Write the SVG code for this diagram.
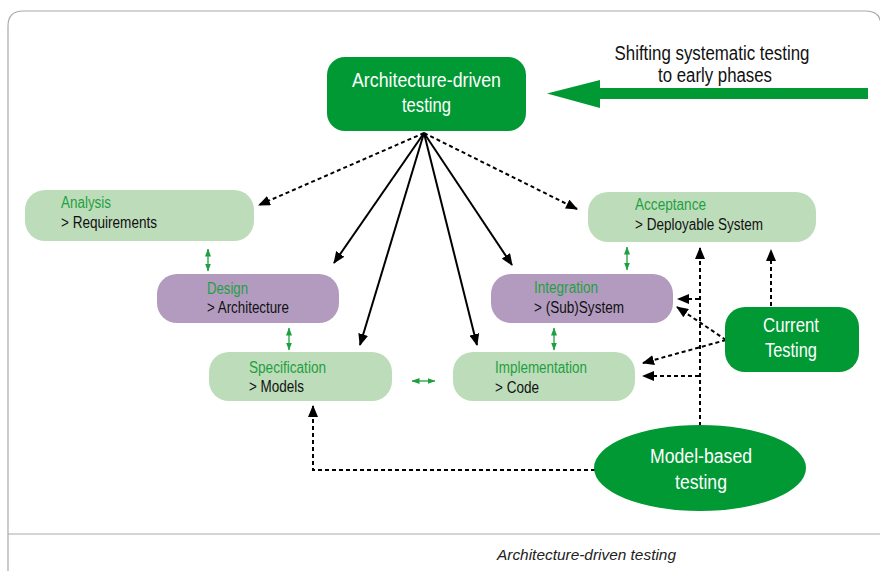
<svg xmlns="http://www.w3.org/2000/svg" width="880" height="571" viewBox="0 0 880 571">
<style>
.t{font-family:"Liberation Sans Narrow","Liberation Sans",Arial,sans-serif}
.big{font-size:20px;fill:#fff;text-anchor:middle}
.lab{font-size:16px}
.g{fill:#1fa040}
.k{fill:#111}
.lg{fill:#bddcba}
.pu{fill:#b39bc0}
.dg{fill:#009933}
.dash{stroke:#000;stroke-width:2;stroke-dasharray:4 3;fill:none}
.sol{stroke:#000;stroke-width:2;fill:none}
.ga{stroke:#1fa040;stroke-width:1.3;fill:none}
</style>
<defs>
<marker id="ah" markerUnits="userSpaceOnUse" markerWidth="12" markerHeight="10" refX="11" refY="5" orient="auto">
<path d="M0,0 L12,5 L0,10 z" fill="#000"/>
</marker>
<marker id="gh" markerUnits="userSpaceOnUse" markerWidth="8" markerHeight="6" refX="7.5" refY="3" orient="auto-start-reverse">
<path d="M0,0 L8,3 L0,6 z" fill="#1fa040"/>
</marker>
</defs>
<rect x="0" y="0" width="880" height="571" fill="#fff"/>
<path d="M8,590 L8,26 Q8,11 23,11 L866,11 Q881,11 881,26 L881,590" fill="none" stroke="#aaa" stroke-width="1.2"/>
<line x1="8" y1="534" x2="880" y2="534" stroke="#aaa" stroke-width="1.2"/>
<text class="t" x="497" y="560" font-size="14" font-style="italic" fill="#222" textLength="179" lengthAdjust="spacingAndGlyphs">Architecture-driven testing</text>

<g id="shift">
<path d="M868,88 L600,88 L600,80 L547,93.5 L600,108 L600,99 L868,99 z" fill="#009933"/>
<text class="t" x="712" y="60" font-size="20" text-anchor="middle" fill="#111" textLength="195" lengthAdjust="spacingAndGlyphs">Shifting systematic testing</text>
<text class="t" x="715" y="82" font-size="20" text-anchor="middle" fill="#111" textLength="114" lengthAdjust="spacingAndGlyphs">to early phases</text>
</g>

<g id="connectors">
<line class="dash" x1="424" y1="133" x2="259" y2="205" marker-end="url(#ah)"/>
<line class="dash" x1="424" y1="133" x2="577" y2="209" marker-end="url(#ah)"/>
<line class="sol" x1="424" y1="133" x2="334" y2="263" marker-end="url(#ah)"/>
<line class="sol" x1="424" y1="133" x2="360" y2="345" marker-end="url(#ah)"/>
<line class="sol" x1="424" y1="133" x2="477" y2="345" marker-end="url(#ah)"/>
<line class="sol" x1="424" y1="133" x2="512" y2="265" marker-end="url(#ah)"/>
<line class="dash" x1="771" y1="306" x2="771" y2="250" marker-end="url(#ah)"/>
<line class="dash" x1="726" y1="340" x2="677" y2="307" marker-end="url(#ah)"/>
<line class="dash" x1="726" y1="340" x2="643" y2="363" marker-end="url(#ah)"/>
<line class="dash" x1="700" y1="426" x2="700" y2="248" marker-end="url(#ah)"/>
<line class="dash" x1="699" y1="299" x2="678" y2="299" marker-end="url(#ah)"/>
<line class="dash" x1="699" y1="376" x2="643" y2="376" marker-end="url(#ah)"/>
<polyline class="dash" points="595,470 313,470 313,406" marker-end="url(#ah)"/>
<line class="ga" x1="208" y1="249" x2="208" y2="271" marker-start="url(#gh)" marker-end="url(#gh)"/>
<line class="ga" x1="289" y1="328" x2="289" y2="350" marker-start="url(#gh)" marker-end="url(#gh)"/>
<line class="ga" x1="627" y1="247" x2="627" y2="270" marker-start="url(#gh)" marker-end="url(#gh)"/>
<line class="ga" x1="554" y1="328" x2="554" y2="350" marker-start="url(#gh)" marker-end="url(#gh)"/>
<line class="ga" x1="412" y1="381" x2="435" y2="381" marker-start="url(#gh)" marker-end="url(#gh)"/>
</g>

<g id="arch">
<rect class="dg" x="327" y="57" width="199" height="74" rx="18"/>
<text class="t big" x="426.5" y="87" textLength="149" lengthAdjust="spacingAndGlyphs">Architecture-driven</text>
<text class="t big" x="426.5" y="112" textLength="49" lengthAdjust="spacingAndGlyphs">testing</text>
</g>
<g id="analysis">
<rect class="lg" x="25" y="190" width="229" height="51" rx="20"/>
<text class="t lab g" x="61" y="208" textLength="50" lengthAdjust="spacingAndGlyphs">Analysis</text>
<text class="t lab k" x="61" y="228" textLength="96" lengthAdjust="spacingAndGlyphs">&gt; Requirements</text>
</g>
<g id="acceptance">
<rect class="lg" x="588" y="192" width="228" height="50" rx="20"/>
<text class="t lab g" x="635" y="210" textLength="71" lengthAdjust="spacingAndGlyphs">Acceptance</text>
<text class="t lab k" x="635" y="230" textLength="128" lengthAdjust="spacingAndGlyphs">&gt; Deployable System</text>
</g>
<g id="design">
<rect class="pu" x="157" y="274" width="182" height="49" rx="20"/>
<text class="t lab g" x="207" y="294" textLength="41" lengthAdjust="spacingAndGlyphs">Design</text>
<text class="t lab k" x="207" y="313" textLength="82" lengthAdjust="spacingAndGlyphs">&gt; Architecture</text>
</g>
<g id="integration">
<rect class="pu" x="491" y="274" width="182" height="49" rx="20"/>
<text class="t lab g" x="534" y="293" textLength="64" lengthAdjust="spacingAndGlyphs">Integration</text>
<text class="t lab k" x="534" y="313" textLength="90" lengthAdjust="spacingAndGlyphs">&gt; (Sub)System</text>
</g>
<g id="specification">
<rect class="lg" x="209" y="352" width="183" height="49" rx="20"/>
<text class="t lab g" x="249" y="373" textLength="77" lengthAdjust="spacingAndGlyphs">Specification</text>
<text class="t lab k" x="249" y="392" textLength="55" lengthAdjust="spacingAndGlyphs">&gt; Models</text>
</g>
<g id="implementation">
<rect class="lg" x="453" y="352" width="182" height="49" rx="20"/>
<text class="t lab g" x="495" y="373" textLength="92" lengthAdjust="spacingAndGlyphs">Implementation</text>
<text class="t lab k" x="495" y="393" textLength="44" lengthAdjust="spacingAndGlyphs">&gt; Code</text>
</g>
<g id="current">
<rect class="dg" x="725" y="307" width="134" height="65" rx="20"/>
<text class="t big" x="791" y="332" textLength="56" lengthAdjust="spacingAndGlyphs">Current</text>
<text class="t big" x="791" y="357" textLength="52" lengthAdjust="spacingAndGlyphs">Testing</text>
</g>
<g id="modelbased">
<ellipse class="dg" cx="700" cy="468" rx="106" ry="43"/>
<text class="t big" x="701" y="463" textLength="102" lengthAdjust="spacingAndGlyphs">Model-based</text>
<text class="t big" x="701" y="489" textLength="52" lengthAdjust="spacingAndGlyphs">testing</text>
</g>
</svg>
